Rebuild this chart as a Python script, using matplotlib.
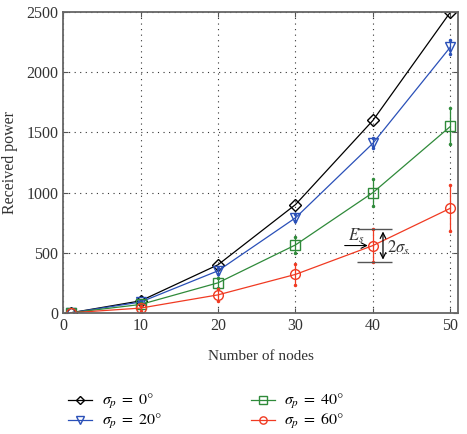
import matplotlib.pyplot as plt

plt.rcParams['font.family'] = ['Liberation Serif', 'DejaVu Serif']
plt.rcParams['mathtext.fontset'] = 'stix'

nodes = [1, 10, 20, 30, 40, 50]
p0 = [1, 100, 400, 900, 1600, 2500]
p20 = [1, 90, 350, 790, 1410, 2210]
p40 = [1, 70, 250, 565, 1000, 1550]
p60 = [1, 40, 150, 320, 560, 870]

err20 = [0, 10, 25, 30, 40, 55]
err40 = [0, 15, 40, 70, 110, 150]
err60 = [0, 20, 50, 90, 140, 190]

series = [
    (p0, None, 'black', 'D', r'$\sigma_p\;=\;0°$'),
    (p20, err20, '#2a50b8', 'v', r'$\sigma_p\;=\;20°$'),
    (p40, err40, '#2f8a3a', 's', r'$\sigma_p\;=\;40°$'),
    (p60, err60, '#f03a22', 'o', r'$\sigma_p\;=\;60°$'),
]

fig = plt.figure(figsize=(4.67, 4.34), dpi=100)
ax = fig.add_axes([0.135, 0.279, 0.846, 0.693])

handles = []
for vals, err, col, mk, lab in series:
    ms = 6 if mk == 'D' else 7
    if err is not None:
        lo = [v - e for v, e in zip(vals, err)]
        hi = [v + e for v, e in zip(vals, err)]
        ax.vlines(nodes[1:], lo[1:], hi[1:], color=col, lw=0.9)
        ax.plot(nodes[1:], lo[1:], '.', color=col, ms=3)
        ax.plot(nodes[1:], hi[1:], '.', color=col, ms=3)
    h, = ax.plot(nodes, vals, color=col, lw=0.9, marker=mk, ms=ms,
                 mfc='none', mec=col, mew=1.0, label=lab)
    handles.append(h)

# annotation around the 60 degree point at 40 nodes
ax.hlines([700, 420], 38.0, 42.5, color='#555555', lw=1.0)
ax.annotate('', xy=(41.3, 420), xytext=(41.3, 700),
            arrowprops=dict(arrowstyle='<->', color='black', lw=0.9))
ax.text(41.8, 545, r'$2\sigma_s$', fontsize=12, color='#333333', va='center')
ax.annotate('', xy=(39.7, 560), xytext=(36.0, 560),
            arrowprops=dict(arrowstyle='->', color='black', lw=0.8))
ax.text(36.8, 600, r'$E_s$', fontsize=12, color='#333333')

ax.set_xlim(0, 51)
ax.set_ylim(0, 2500)
ax.set_xticks([0, 10, 20, 30, 40, 50])
ax.set_yticks([0, 500, 1000, 1500, 2000, 2500])
ax.grid(True, color='#333333', linestyle=(0, (1, 4)), lw=0.8)
ax.tick_params(direction='in', top=True, right=True, labelsize=11.5,
               labelcolor='#333333', color='#555555')
for s in ax.spines.values():
    s.set_color('#666666')
    s.set_linewidth(1.3)

ax.set_xlabel('Number of nodes', fontsize=11, color='#333333', labelpad=12)
ax.set_ylabel('Received power', fontsize=11.5, color='#333333', labelpad=6)

fig.legend(handles=handles, loc='center left', bbox_to_anchor=(0.115, 0.051),
           ncol=2, frameon=False, fontsize=11.5, columnspacing=5.6,
           handlelength=1.5, handletextpad=0.6, labelspacing=0.05,
           markerscale=0.75)

fig.savefig('out.png', dpi=100)
